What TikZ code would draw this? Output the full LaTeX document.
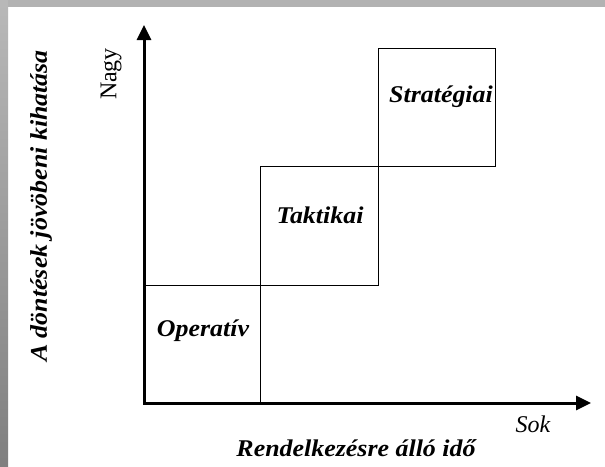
\documentclass[tikz,border=0pt]{standalone}
\usepackage{fontspec}
\usepackage{graphicx}
\setmainfont{Liberation Serif}
\usetikzlibrary{arrows.meta}
\tikzset{
  axis/.style={line width=3pt, -{Triangle[length=15pt,width=14pt]}},
  boxframe/.style={draw=black, line width=0.9pt, inner sep=0pt},
  lbl/.style={font=\fontsize{24}{24}\selectfont\bfseries\itshape, inner sep=0pt},
  plain/.style={font=\fontsize{24}{24}\selectfont, inner sep=0pt}
}
\newcommand{\wide}[1]{\scalebox{1.08}[1]{#1}}
\begin{document}
\begin{tikzpicture}[x=1pt,y=-1pt]
\useasboundingbox (0,0) rectangle (605,466);
\fill[white] (0,0) rectangle (605,466);
\fill[black!30] (0,0) rectangle (605,7);
\shade[top color=black!28, bottom color=black!50] (0,7) rectangle (8,466);
\fill[black!28] (0,0) rectangle (8,7);
% boxes
\node[boxframe, minimum width=116pt, minimum height=118pt] (op) at (202,344) {};
\node[boxframe, minimum width=118pt, minimum height=119pt] (tak) at (319,225.5) {};
\node[boxframe, minimum width=117pt, minimum height=118pt] (str) at (436.5,107) {};
% labels
\node[lbl] (opl) at (203,331) {\wide{Operatív}};
\node[lbl] (takl) at (320,215) {\wide{Taktikai}};
\node[lbl] (strl) at (441,97) {\wide{Stratégiai}};
% axes
\coordinate (O) at (144,403);
\coordinate (ytop) at (144,25);
\coordinate (xend) at (591,403);
\draw[axis] (O) -- (ytop);
\draw[axis] (O) -- (xend);
\fill (142.5,401.5) rectangle (145.5,404.5);
% axis labels
\node[plain, rotate=90] (nagy) at (111,74) {Nagy};
\node[plain, font=\fontsize{24}{24}\selectfont\itshape] (sok) at (533,424) {Sok};
\node[lbl] (xlab) at (356,448) {\wide{Rendelkezésre álló idő}};
\node[lbl, rotate=90] (ylab) at (41,206) {\wide{A döntések jövöbeni kihatása}};
\end{tikzpicture}
\end{document}
